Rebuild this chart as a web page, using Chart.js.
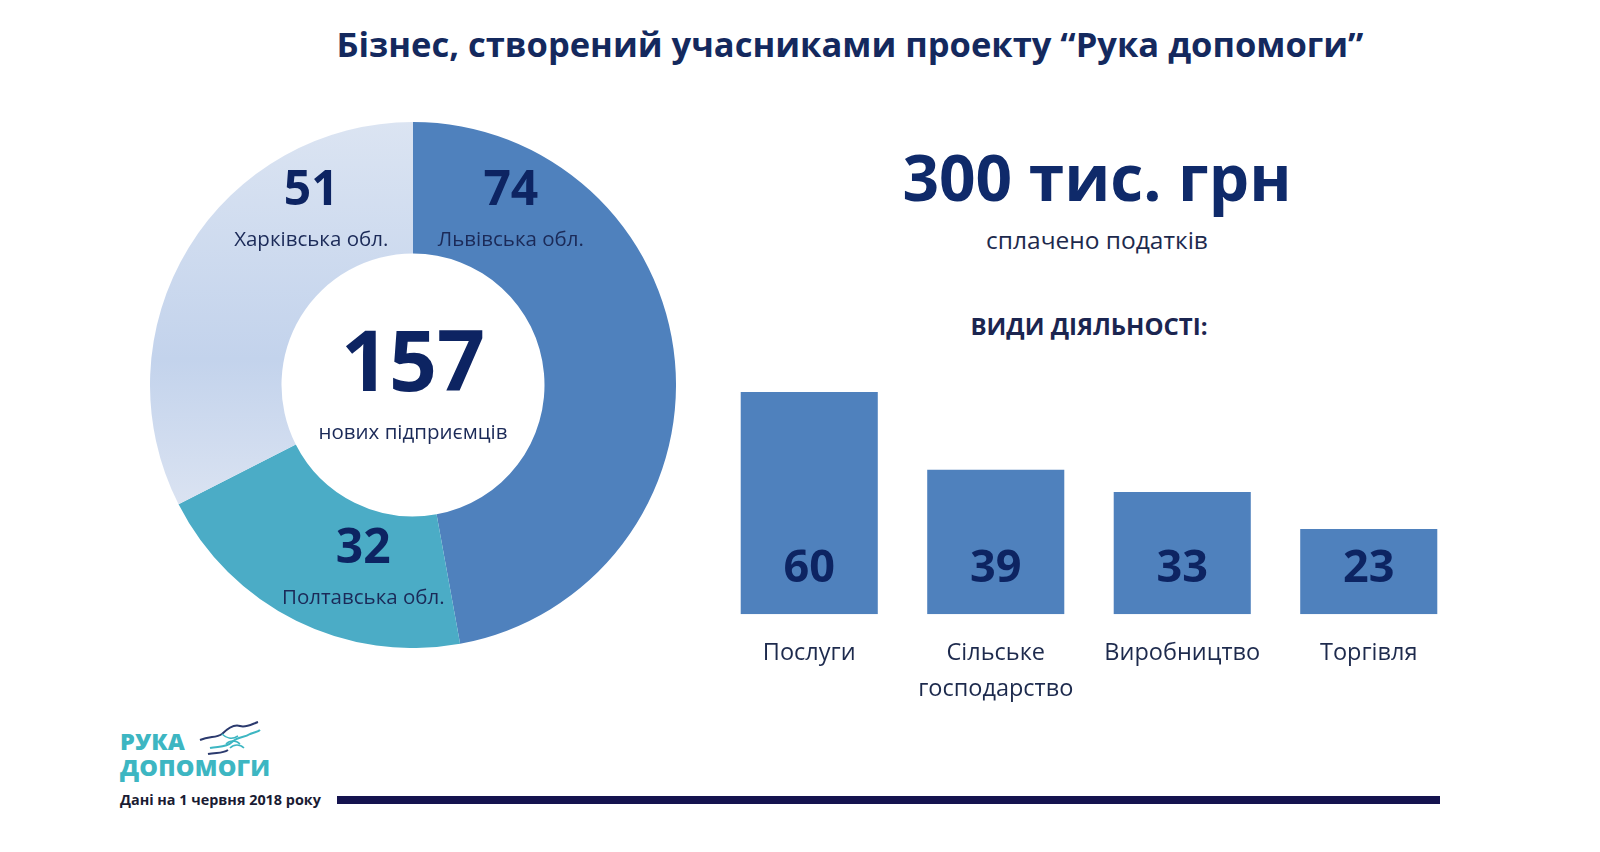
<!DOCTYPE html>
<html lang="uk">
<head>
<meta charset="utf-8">
<script src="https://cdn.jsdelivr.net/npm/chart.js@4"></script>
<style>
  body { margin: 0; background: #fff; width: 1600px; height: 852px; position: relative; overflow: hidden; font-family: "Open Sans", "Noto Sans", sans-serif; }
  .abs { position: absolute; white-space: nowrap; }
  #title { left: 0; width: 1700px; top: 20px; text-align: center; font-size: 34.5px; font-weight: 700; color: #14295e; }
  #sum { left: 897px; width: 400px; top: 133px; text-align: center; font-size: 64px; font-weight: 700; color: #0f2a6a; }
  #sumSub { left: 897px; width: 400px; top: 223px; text-align: center; font-size: 24.5px; color: #1d2a4d; }
  #kinds { left: 889px; width: 400px; top: 309px; text-align: center; font-size: 24px; font-weight: 700; color: #1b2550; }
  #donutBox { left: 150px; top: 122px; width: 526px; height: 526px; }
  #barBox { left: 716px; top: 348px; width: 746px; height: 381px; }
  #logo { left: 120px; top: 728px; font-size: 23.5px; font-weight: 800; color: #3db6c2; line-height: 26px; letter-spacing: 0.2px; }
  #icon { left: 196px; top: 718px; }
  #date { left: 120px; top: 790px; font-size: 14.4px; font-weight: 700; color: #1a1c33; }
  #rule { left: 337px; top: 796px; width: 1103px; height: 8px; background: #15134f; }
</style>
</head>
<body>
<div class="abs" id="title">Бізнес, створений учасниками проекту “Рука допомоги”</div>
<div class="abs" id="donutBox"><canvas id="donut"></canvas></div>
<div class="abs" id="sum">300 тис. грн</div>
<div class="abs" id="sumSub">сплачено податків</div>
<div class="abs" id="kinds">ВИДИ ДІЯЛЬНОСТІ:</div>
<div class="abs" id="barBox"><canvas id="bars"></canvas></div>
<div class="abs" id="logo">РУКА<br>ДОПОМОГИ</div>
<svg class="abs" id="icon" width="66" height="44" viewBox="0 0 66 44">
  <path d="M4 22 C14 18 20 20 26 16 C32 10 38 6 44 8 C50 10 56 6 62 4" fill="none" stroke="#2b3a6e" stroke-width="2"/>
  <path d="M14 30 C22 28 30 30 36 24 C42 18 48 20 54 16 C58 14 62 14 64 12" fill="none" stroke="#3db6c2" stroke-width="2"/>
  <path d="M26 16 C30 20 36 22 42 18 M30 26 C34 22 40 22 44 26 M34 30 C38 26 44 26 48 30" fill="none" stroke="#3db6c2" stroke-width="1.6"/>
  <path d="M12 36 C20 34 26 36 32 32" fill="none" stroke="#2b3a6e" stroke-width="2"/>
</svg>
<div class="abs" id="date">Дані на 1 червня 2018 року</div>
<div class="abs" id="rule"></div>

<script>
// regions (donut)
const regions = ['Львівська обл.', 'Полтавська обл.', 'Харківська обл.'];
const regionCounts = [74, 32, 51];
const totalEntrepreneurs = 157;

// activity types (bars)
const activities = [['Послуги'], ['Сільське', 'господарство'], ['Виробництво'], ['Торгівля']];
const activityCounts = [60, 39, 33, 23];

const navy = '#0d2462';
const font = '"Open Sans", "Noto Sans", sans-serif';

// where each region's label sits, as a share of the outer radius from the centre
const labelSpots = [
  { dx: 0.372, dy: -0.737 },
  { dx: -0.189, dy: 0.625 },
  { dx: -0.387, dy: -0.737 }
];

const donutLabels = {
  id: 'donutLabels',
  afterDatasetsDraw(chart) {
    const ctx = chart.ctx;
    const arcs = chart.getDatasetMeta(0).data;
    const cx = arcs[0].x, cy = arcs[0].y, r = arcs[0].outerRadius;
    ctx.save();
    ctx.textAlign = 'center';
    ctx.textBaseline = 'middle';
    regions.forEach((name, i) => {
      const x = cx + labelSpots[i].dx * r;
      const y = cy + labelSpots[i].dy * r;
      ctx.fillStyle = navy;
      ctx.font = '700 48px ' + font;
      ctx.fillText(String(regionCounts[i]), x, y);
      ctx.font = '400 20.5px ' + font;
      ctx.fillStyle = '#1b2a58';
      ctx.fillText(name, x, y + 0.187 * r);
    });
    ctx.fillStyle = navy;
    ctx.font = '700 84px ' + font;
    ctx.fillText(String(totalEntrepreneurs), cx, cy - 18);
    ctx.font = '400 20.5px ' + font;
    ctx.fillStyle = '#1b2a58';
    ctx.fillText('нових підприємців', cx, cy + 48);
    ctx.restore();
  }
};

new Chart(document.getElementById('donut'), {
  type: 'doughnut',
  data: {
    labels: regions,
    datasets: [{
      data: regionCounts,
      backgroundColor: function(c) {
        if (c.dataIndex !== 2) return ['#4f81bd', '#4bacc6'][c.dataIndex];
        const area = c.chart.chartArea;
        if (!area) return '#cbd8ee';
        const g = c.chart.ctx.createLinearGradient(0, area.top, 0, area.bottom);
        g.addColorStop(0, '#dbe4f2');
        g.addColorStop(0.45, '#c3d3ec');
        g.addColorStop(0.75, '#dce4f2');
        g.addColorStop(1, '#e2e8f3');
        return g;
      },
      borderWidth: 0
    }]
  },
  options: {
    responsive: true,
    maintainAspectRatio: false,
    animation: false,
    cutout: '50%',
    layout: { padding: 0 },
    plugins: { legend: { display: false }, tooltip: { enabled: false } }
  },
  plugins: [donutLabels]
});

const barValues = {
  id: 'barValues',
  afterDatasetsDraw(chart) {
    const ctx = chart.ctx;
    ctx.save();
    ctx.textAlign = 'center';
    ctx.textBaseline = 'middle';
    ctx.fillStyle = navy;
    ctx.font = '700 45px ' + font;
    chart.getDatasetMeta(0).data.forEach((bar, i) => {
      ctx.fillText(String(activityCounts[i]), bar.x, bar.base - 45);
    });
    ctx.restore();
  }
};

new Chart(document.getElementById('bars'), {
  type: 'bar',
  data: {
    labels: activities,
    datasets: [{
      data: activityCounts,
      backgroundColor: '#4f81bd',
      barPercentage: 0.735,
      categoryPercentage: 1
    }]
  },
  options: {
    responsive: true,
    maintainAspectRatio: false,
    animation: false,
    layout: { padding: { top: 44, left: 0, right: 0, bottom: 0 } },
    scales: {
      y: { display: false, min: 0, max: 60 },
      x: {
        grid: { display: false, drawTicks: false },
        border: { display: false },
        ticks: {
          padding: 21,
          color: '#1d2a4d',
          font: { family: font, size: 23.5, lineHeight: 1.55 }
        }
      }
    },
    plugins: { legend: { display: false }, tooltip: { enabled: false } }
  },
  plugins: [barValues]
});
</script>
</body>
</html>
